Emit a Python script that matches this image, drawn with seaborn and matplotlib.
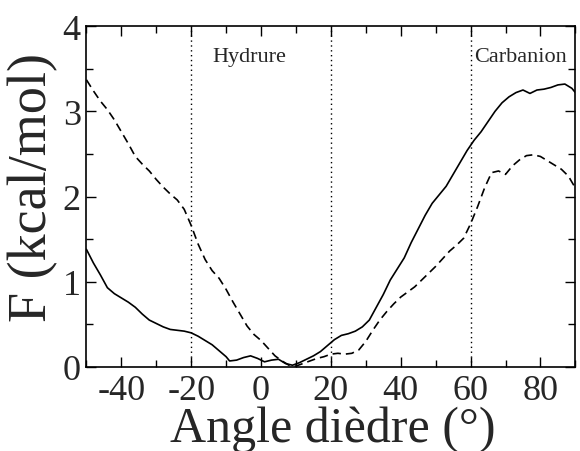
import numpy as np
import pandas as pd
import matplotlib
matplotlib.use("Agg")
import matplotlib.pyplot as plt
import seaborn as sns
from matplotlib.ticker import MultipleLocator

# solid curve
angle_solid = [-50, -48, -46, -44, -42, -40, -38, -36, -34, -32, -30, -28, -26, -24, -22,
               -20, -18, -16, -14, -12, -10, -9, -7, -5, -3, -1, 1, 3, 5, 7, 9, 11, 13, 15,
               17, 19, 21, 23, 25, 27, 29, 31, 33, 35, 37, 39, 41, 43, 45, 47, 49, 51, 53,
               55, 57, 59, 61, 63, 65, 67, 69, 71, 73, 75, 77, 79, 81, 83, 85, 87, 89, 90]
F_solid = [1.38, 1.22, 1.08, 0.93, 0.86, 0.81, 0.76, 0.70, 0.62, 0.55, 0.51, 0.47, 0.44,
           0.43, 0.42, 0.40, 0.36, 0.31, 0.26, 0.19, 0.12, 0.07, 0.08, 0.11, 0.13, 0.10,
           0.06, 0.08, 0.09, 0.04, 0.02, 0.05, 0.09, 0.13, 0.18, 0.25, 0.32, 0.37, 0.39,
           0.42, 0.47, 0.55, 0.70, 0.85, 1.02, 1.15, 1.28, 1.46, 1.62, 1.78, 1.92, 2.02,
           2.12, 2.26, 2.40, 2.54, 2.66, 2.76, 2.88, 3.00, 3.10, 3.17, 3.22, 3.25, 3.21,
           3.25, 3.26, 3.28, 3.31, 3.32, 3.27, 3.22]

# dashed curve
angle_dash = list(range(-50, 91, 2))
F_dash = [3.37, 3.24, 3.12, 3.02, 2.90, 2.76, 2.62, 2.47, 2.38, 2.30, 2.20, 2.11, 2.03,
          1.96, 1.85, 1.66, 1.44, 1.26, 1.13, 1.04, 0.91, 0.76, 0.62, 0.48, 0.38, 0.31,
          0.22, 0.13, 0.07, 0.02, 0.01, 0.04, 0.07, 0.10, 0.12, 0.15, 0.16, 0.15, 0.16,
          0.20, 0.30, 0.43, 0.55, 0.65, 0.74, 0.82, 0.88, 0.94, 1.02, 1.10, 1.18, 1.27,
          1.36, 1.43, 1.51, 1.68, 1.88, 2.10, 2.28, 2.30, 2.26, 2.36, 2.43, 2.48, 2.49,
          2.47, 2.42, 2.37, 2.32, 2.24, 2.10]

region_lines = [-20, 20, 60]
region_names = ["Hydrure", "Carbanion"]
region_pos = [(-14, 3.59), (61, 3.59)]

sns.set_theme(style="ticks")
plt.rcParams['font.family'] = ['Liberation Serif', 'DejaVu Serif']
plt.rcParams['xtick.direction'] = 'in'
plt.rcParams['ytick.direction'] = 'in'

fig = plt.figure(figsize=(5.8, 4.52), dpi=100)
ax = fig.add_axes([0.149, 0.186, 0.843, 0.754])

df_s = pd.DataFrame({"angle": angle_solid, "F": F_solid})
df_d = pd.DataFrame({"angle": angle_dash, "F": F_dash})
sns.lineplot(data=df_s, x="angle", y="F", ax=ax, color="black", lw=1.2)
sns.lineplot(data=df_d, x="angle", y="F", ax=ax, color="black", lw=1.2,
             linestyle=(0, (5, 3)))

for xv in region_lines:
    ax.axvline(xv, color="black", lw=1.0, linestyle=(0, (1, 2.5)))

for name, (xp, yp) in zip(region_names, region_pos):
    ax.text(xp, yp, name, fontsize=16, va="baseline", ha="left", clip_on=False)

ax.set_xlim(-50, 90)
ax.set_ylim(0, 4)
ax.xaxis.set_major_locator(MultipleLocator(20))
ax.xaxis.set_minor_locator(MultipleLocator(10))
ax.yaxis.set_major_locator(MultipleLocator(1))
ax.yaxis.set_minor_locator(MultipleLocator(0.5))
ax.tick_params(which="both", top=True, right=True, direction="in", color="black")
ax.tick_params(which="major", length=7, width=1.0, labelsize=26)
ax.tick_params(axis="x", which="major", pad=5)
ax.tick_params(axis="y", which="major", pad=4)
ax.tick_params(which="minor", length=5, width=1.0)
ax.set_xticks([-40, -20, 0, 20, 40, 60, 80])
ax.set_xticklabels(["-40", "-20", "0", "20", "40", "60", "80"])
for sp in ax.spines.values():
    sp.set_color("black")
    sp.set_linewidth(1.2)

ax.set_xlabel("Angle dièdre (°)", fontsize=36)
ax.set_ylabel("F (kcal/mol)", fontsize=39)
ax.xaxis.set_label_coords(0.503, -0.112)
ax.yaxis.set_label_coords(-0.058, 0.53)

fig.savefig("out.png", dpi=100)
